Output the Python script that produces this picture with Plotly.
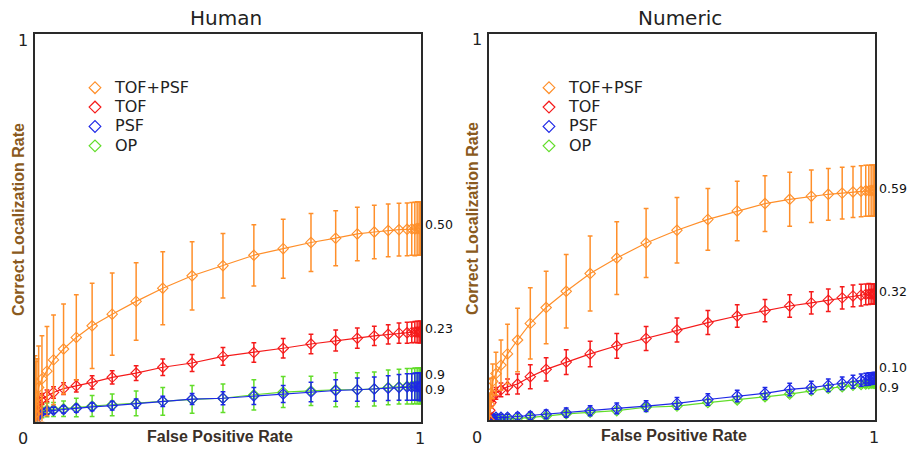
import plotly.graph_objects as go

# ---------------- data ----------------
FPR = [0.0, 0.002, 0.005, 0.0095, 0.018, 0.031, 0.048, 0.074, 0.107, 0.148,
       0.200, 0.262, 0.331, 0.407, 0.487, 0.567, 0.643, 0.715, 0.779, 0.835,
       0.879, 0.915, 0.943, 0.964, 0.976, 0.984, 0.990, 0.995, 0.998, 1.0]

SERIES = ["TOF+PSF", "TOF", "PSF", "OP"]
PANELS = ["Human", "Numeric"]
TICK_LABELS = ["0", "1"]
X_TITLE = "False Positive Rate"
Y_TITLE = "Correct Localization Rate"

# Human panel
human_tofpsf = [0.02, 0.035, 0.062, 0.088, 0.110, 0.130, 0.159, 0.187, 0.217, 0.247,
                0.277, 0.310, 0.344, 0.376, 0.402, 0.429, 0.446, 0.462, 0.473, 0.484,
                0.489, 0.493, 0.495, 0.496, 0.497, 0.497, 0.498, 0.498, 0.498, 0.498]
human_tofpsf_err = [0.15, 0.12, 0.10, 0.107, 0.111, 0.115, 0.116, 0.116, 0.110, 0.110,
                    0.106, 0.100, 0.094, 0.088, 0.083, 0.079, 0.076, 0.075, 0.071, 0.069,
                    0.069, 0.068, 0.068, 0.068, 0.068, 0.069, 0.069, 0.069, 0.069, 0.069]
human_tof = [0.0, 0.02, 0.035, 0.048, 0.058, 0.066, 0.075, 0.085, 0.092, 0.101,
             0.114, 0.125, 0.140, 0.151, 0.168, 0.178, 0.189, 0.200, 0.209, 0.215,
             0.221, 0.225, 0.228, 0.229, 0.230, 0.231, 0.231, 0.231, 0.231, 0.231]
human_tof_err = [0.008, 0.010, 0.012, 0.013, 0.014, 0.015, 0.015, 0.015, 0.016, 0.017,
                 0.017, 0.019, 0.021, 0.022, 0.023, 0.025, 0.025, 0.025, 0.027, 0.026,
                 0.025, 0.025, 0.026, 0.027, 0.027, 0.027, 0.028, 0.028, 0.028, 0.028]
human_psf = [0.0, 0.008, 0.015, 0.020, 0.024, 0.027, 0.029, 0.031, 0.034, 0.038,
             0.041, 0.046, 0.052, 0.058, 0.060, 0.066, 0.071, 0.076, 0.080, 0.082,
             0.084, 0.086, 0.088, 0.089, 0.089, 0.090, 0.090, 0.090, 0.090, 0.090]
human_psf_err = [0.004, 0.005, 0.006, 0.007, 0.008, 0.008, 0.008, 0.009, 0.010, 0.010,
                 0.011, 0.012, 0.013, 0.014, 0.017, 0.022, 0.022, 0.025, 0.028, 0.030,
                 0.031, 0.032, 0.033, 0.034, 0.034, 0.035, 0.035, 0.036, 0.036, 0.036]
human_op = [0.0, 0.010, 0.018, 0.023, 0.027, 0.030, 0.031, 0.033, 0.036, 0.040,
            0.043, 0.047, 0.052, 0.057, 0.060, 0.069, 0.076, 0.079, 0.082, 0.082,
            0.084, 0.088, 0.090, 0.091, 0.091, 0.092, 0.092, 0.092, 0.092, 0.092]
human_op_err = [0.010, 0.012, 0.014, 0.016, 0.017, 0.018, 0.018, 0.020, 0.024, 0.027,
                0.028, 0.032, 0.036, 0.036, 0.037, 0.039, 0.040, 0.038, 0.044, 0.044,
                0.044, 0.045, 0.045, 0.046, 0.046, 0.046, 0.046, 0.046, 0.046, 0.046]

# Numeric panel
numeric_tofpsf = [0.0, 0.04, 0.07, 0.10, 0.120, 0.142, 0.171, 0.207, 0.250, 0.291,
                  0.333, 0.379, 0.419, 0.458, 0.491, 0.519, 0.541, 0.560, 0.571, 0.579,
                  0.584, 0.587, 0.590, 0.592, 0.593, 0.593, 0.594, 0.594, 0.594, 0.594]
numeric_tofpsf_err = [0.02, 0.03, 0.038, 0.045, 0.055, 0.065, 0.077, 0.082, 0.092, 0.094,
                      0.095, 0.097, 0.094, 0.089, 0.085, 0.080, 0.077, 0.072, 0.070, 0.068,
                      0.067, 0.067, 0.066, 0.066, 0.066, 0.066, 0.066, 0.066, 0.066, 0.066]
numeric_tof = [0.0, 0.025, 0.045, 0.060, 0.069, 0.078, 0.086, 0.093, 0.112, 0.131,
               0.150, 0.171, 0.192, 0.211, 0.233, 0.252, 0.269, 0.283, 0.295, 0.303,
               0.310, 0.316, 0.321, 0.323, 0.325, 0.326, 0.326, 0.326, 0.326, 0.326]
numeric_tof_err = [0.005, 0.008, 0.010, 0.012, 0.015, 0.018, 0.020, 0.026, 0.031, 0.030,
                   0.032, 0.033, 0.032, 0.031, 0.031, 0.031, 0.029, 0.029, 0.029, 0.029,
                   0.029, 0.029, 0.028, 0.028, 0.027, 0.027, 0.026, 0.026, 0.026, 0.026]
numeric_psf = [0.0, 0.003, 0.005, 0.006, 0.007, 0.007, 0.007, 0.009, 0.011, 0.015,
               0.019, 0.024, 0.030, 0.036, 0.043, 0.053, 0.062, 0.069, 0.079, 0.084,
               0.090, 0.095, 0.099, 0.103, 0.105, 0.106, 0.107, 0.108, 0.108, 0.108]
numeric_psf_err = [0.003, 0.004, 0.005, 0.006, 0.007, 0.008, 0.008, 0.009, 0.010, 0.011,
                   0.012, 0.013, 0.014, 0.014, 0.015, 0.015, 0.015, 0.015, 0.016, 0.016,
                   0.016, 0.016, 0.017, 0.016, 0.016, 0.016, 0.015, 0.015, 0.015, 0.015]
numeric_op = [0.0, 0.002, 0.003, 0.003, 0.003, 0.003, 0.004, 0.004, 0.007, 0.010,
              0.016, 0.020, 0.024, 0.033, 0.036, 0.045, 0.052, 0.060, 0.067, 0.076,
              0.082, 0.086, 0.090, 0.092, 0.093, 0.094, 0.095, 0.095, 0.095, 0.095]
numeric_op_err = [0.002, 0.003, 0.003, 0.004, 0.004, 0.004, 0.005, 0.005, 0.005, 0.006,
                  0.006, 0.006, 0.007, 0.007, 0.007, 0.008, 0.008, 0.008, 0.008, 0.008,
                  0.008, 0.008, 0.008, 0.008, 0.008, 0.008, 0.008, 0.008, 0.008, 0.008]

END_LABELS_HUMAN = ["0.50", "0.23", "0.9", "0.9"]
END_LABELS_NUMERIC = ["0.59", "0.32", "0.10", "0.9"]

# ---------------- styling ----------------
W, H = 913, 452
COLORS = {"TOF+PSF": "#FF8F2A", "TOF": "#F51A1A", "PSF": "#1E28E6", "OP": "#62DD2A"}
DRAW_ORDER = ["OP", "PSF", "TOF", "TOF+PSF"]
# vertical nudges (data units) for end labels so they do not overlap
LABEL_NUDGE = {
    "Human": {"TOF+PSF": 0.011, "TOF": 0.010, "PSF": 0.032, "OP": -0.010},
    "Numeric": {"TOF+PSF": 0.005, "TOF": 0.006, "PSF": 0.027, "OP": -0.010},
}
# plot boxes in pixels: (left, right, top, bottom)
BOXES = {"Human": (35, 421, 34, 421.5), "Numeric": (489, 875, 33.5, 420)}

panel_data = {
    "Human": {
        "TOF+PSF": (human_tofpsf, human_tofpsf_err),
        "TOF": (human_tof, human_tof_err),
        "PSF": (human_psf, human_psf_err),
        "OP": (human_op, human_op_err),
    },
    "Numeric": {
        "TOF+PSF": (numeric_tofpsf, numeric_tofpsf_err),
        "TOF": (numeric_tof, numeric_tof_err),
        "PSF": (numeric_psf, numeric_psf_err),
        "OP": (numeric_op, numeric_op_err),
    },
}
end_labels = {"Human": dict(zip(SERIES, END_LABELS_HUMAN)),
              "Numeric": dict(zip(SERIES, END_LABELS_NUMERIC))}

FONT = "DejaVu Sans"
BOLD_FONT = "Liberation Sans, Arial"

fig = go.Figure()
annotations = []
layout = {}

for i, panel in enumerate(PANELS):
    ax = "" if i == 0 else "2"
    xref, yref = "x" + ax, "y" + ax
    legend_id = "legend" if i == 0 else "legend2"
    l, r, t, b = BOXES[panel]

    layout["xaxis" + ax] = dict(
        domain=[l / W, r / W], range=[0, 1], showgrid=False, zeroline=False,
        showticklabels=False, ticks="", showline=True, mirror=True,
        linecolor="#2a2a2a", linewidth=1.5, fixedrange=True, anchor=yref)
    layout["yaxis" + ax] = dict(
        domain=[1 - b / H, 1 - t / H], range=[0, 1], showgrid=False, zeroline=False,
        showticklabels=False, ticks="", showline=True, mirror=True,
        linecolor="#2a2a2a", linewidth=1.5, fixedrange=True, anchor=xref)

    for name in DRAW_ORDER:
        vals, errs = panel_data[panel][name]
        c = COLORS[name]
        fig.add_trace(go.Scatter(
            x=FPR, y=vals, mode="lines+markers", xaxis=xref, yaxis=yref,
            showlegend=False, name=name,
            line=dict(color=c, width=1.2),
            marker=dict(symbol="diamond-open", size=8, color=c,
                        line=dict(color=c, width=1.1)),
            error_y=dict(type="data", array=errs, visible=True, color=c,
                         thickness=1.5, width=2.4),
        ))
        annotations.append(dict(
            x=1, y=vals[-1] + LABEL_NUDGE[panel][name], xref=xref, yref=yref,
            text=end_labels[panel][name], showarrow=False, xanchor="left",
            yanchor="middle", xshift=3, borderpad=0,
            font=dict(family=FONT, size=12.5, color="#111")))

    # legend entries (marker only)
    for name in SERIES:
        c = COLORS[name]
        fig.add_trace(go.Scatter(
            x=[None], y=[None], mode="markers", xaxis=xref, yaxis=yref,
            name='<span style="font-size:16px">%s</span>' % name,
            legend=legend_id, showlegend=True,
            marker=dict(symbol="diamond-open", size=9, color=c,
                        line=dict(color=c, width=1.2)),
        ))
    layout[legend_id] = dict(
        x=(l + 40) / W, y=1 - 73 / H, xanchor="left", yanchor="top",
        font=dict(family=FONT, size=12.6, color="#222"), bgcolor="rgba(0,0,0,0)",
        borderwidth=0, traceorder="normal")

    # panel title
    annotations.append(dict(
        x=(l + r) / 2 / W - 0.002, y=1 - 18 / H, xref="paper", yref="paper",
        text=panel, showarrow=False, xanchor="center", yanchor="middle",
        font=dict(family=FONT, size=20, color="#222")))
    # tick labels
    annotations.append(dict(
        x=0, y=1, xref=xref, yref=yref, text=TICK_LABELS[1], showarrow=False,
        xanchor="center", yanchor="middle", xshift=-12, yshift=-6,
        font=dict(family=FONT, size=16, color="#222")))
    annotations.append(dict(
        x=0, y=0, xref=xref, yref=yref, text=TICK_LABELS[0], showarrow=False,
        xanchor="center", yanchor="middle", xshift=-12, yshift=-17,
        font=dict(family=FONT, size=16, color="#222")))
    annotations.append(dict(
        x=1, y=0, xref=xref, yref=yref, text=TICK_LABELS[1], showarrow=False,
        xanchor="center", yanchor="middle", xshift=-1, yshift=-17,
        font=dict(family=FONT, size=16, color="#222")))
    # axis titles
    annotations.append(dict(
        x=0.48, y=0, xref=xref + " domain", yref=yref, text="<b>%s</b>" % X_TITLE,
        showarrow=False, xanchor="center", yanchor="middle", yshift=-15,
        font=dict(family=BOLD_FONT, size=16, color="#3a3028")))
    annotations.append(dict(
        x=0, y=0.52, xref=xref, yref=yref + " domain", text="<b>%s</b>" % Y_TITLE,
        showarrow=False, xanchor="center", yanchor="middle", xshift=-17,
        textangle=-90, font=dict(family=BOLD_FONT, size=16, color="#8A5A20")))

fig.update_layout(
    width=W, height=H, margin=dict(l=0, r=0, t=0, b=0),
    paper_bgcolor="white", plot_bgcolor="white",
    annotations=annotations, **layout)

fig.write_html("out.html", config={"displayModeBar": False},
               post_script="document.body.style.margin='0';document.body.style.padding='0';")
